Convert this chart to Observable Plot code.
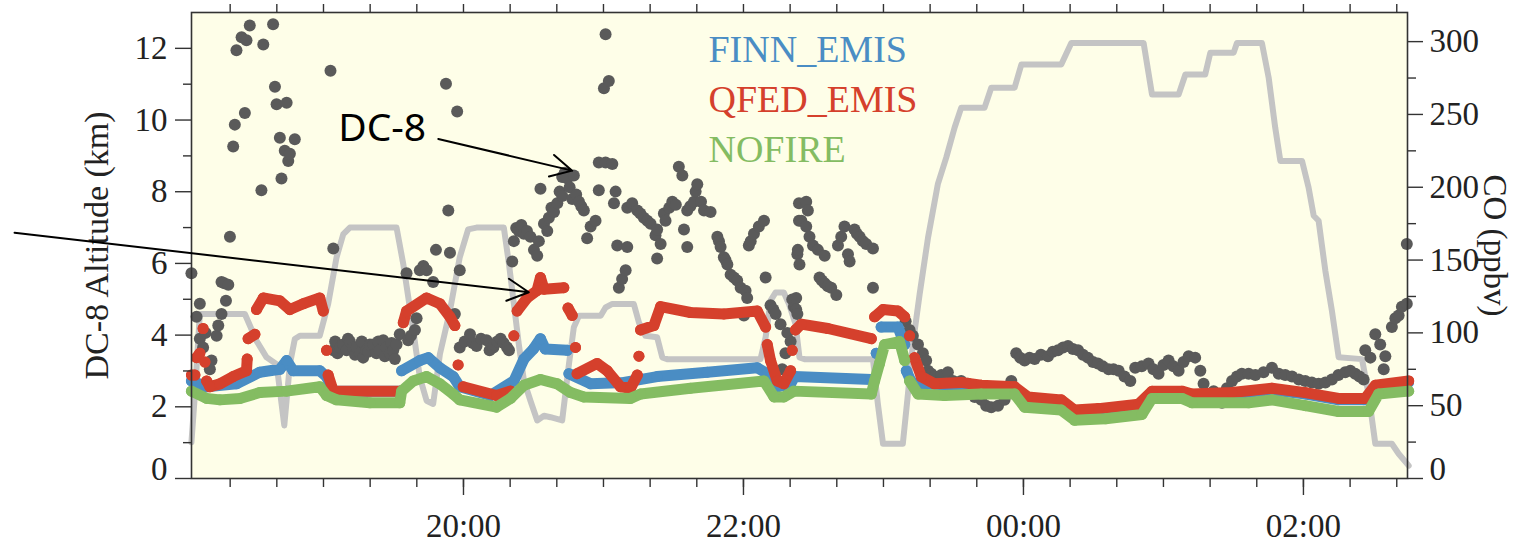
<!DOCTYPE html>
<html>
<head>
<meta charset="utf-8">
<script src="https://cdn.jsdelivr.net/npm/d3@7"></script>
<script src="https://cdn.jsdelivr.net/npm/@observablehq/plot@0.6"></script>
<style>
  html, body { margin: 0; padding: 0; background: #ffffff; }
  #chart svg { display: block; }
</style>
</head>
<body>
<div id="chart"></div>
<script>
// ---- time: minutes after 18:00 ----
const BASE = Date.UTC(2000, 0, 1, 18, 0);
const T = m => new Date(BASE + m * 60000);
const KM2PPB = 320 / 13; // left axis (km) mapped onto right axis (ppbv)

// DC-8 altitude [minute, km]
const altitude = [[3.4,1.01],[4.9,2.36],[7.0,4.59],[26.3,4.59],[31.3,3.84],[35.6,3.38],[39.9,3.19],[43.2,1.48],[45.6,3.19],[47.7,3.89],[49.9,3.98],[58.4,3.98],[62.0,4.87],[65.6,6.17],[68.5,6.82],[71.3,7.0],[91.3,7.0],[94.2,5.98],[98.5,4.12],[101.3,2.82],[104.2,2.17],[107.0,2.08],[109.9,3.47],[114.2,4.68],[118.4,6.17],[122.0,6.95],[125.6,7.0],[137.3,7.0],[139.5,5.98],[141.6,4.87],[143.7,3.75],[145.9,2.73],[148.7,2.17],[151.6,1.62],[154.5,1.75],[157.3,1.71],[162.3,1.62],[165.2,3.19],[167.3,4.22],[169.5,4.54],[178.8,4.54],[180.9,4.77],[183.8,4.87],[193.0,4.87],[195.2,4.35],[198.0,3.98],[203.0,3.94],[205.2,3.38],[207.3,3.33],[247.3,3.33],[249.5,3.94],[251.6,4.96],[253.8,5.19],[257.3,5.19],[259.5,4.87],[262.3,4.31],[264.0,3.38],[266.2,3.33],[295.5,3.33],[297.6,2.08],[299.8,0.97],[308.3,0.97],[310.5,2.36],[312.6,3.75],[315.5,5.14],[319.1,6.72],[323.3,8.21],[326.9,8.95],[330.5,9.79],[333.3,10.34],[343.3,10.34],[346.2,10.9],[356.2,10.9],[359.1,11.55],[376.2,11.55],[380.5,12.15],[411.5,12.15],[415.1,10.71],[426.5,10.71],[429.4,11.27],[437.9,11.27],[440.1,11.88],[450.1,11.88],[451.5,12.15],[462.2,12.15],[465.1,11.18],[467.9,9.79],[470.1,8.86],[479.4,8.86],[482.2,8.12],[484.4,7.33],[486.5,7.19],[489.4,5.79],[492.2,4.68],[495.1,3.38],[505.1,3.33],[507.9,2.36],[510.8,0.97],[517.9,0.97],[520.8,0.69],[525.1,0.36]];

// observed CO [minute, ppbv]
const coObs = [[3.4,141],[5.6,111],[7.0,120],[7.0,96],[8.4,90],[9.5,100],[11.3,75],[12.0,81],[14.2,98],[14.9,105],[16.3,113],[16.3,135],[17.5,134],[18.2,122],[19.2,133],[19.9,166],[21.3,228],[22.0,243],[22.7,294],[24.9,303],[26.3,251],[27.0,301],[28.4,311],[33.4,198],[34.2,298],[38.4,312],[39.2,269],[39.9,257],[41.3,234],[42.0,206],[43.4,225],[44.2,258],[44.9,218],[45.6,223],[47.7,233],[63.0,280],[64.2,158],
[64.2,88],[65.0,94],[66.0,86],[67.0,90],[68.5,92],[69.9,88],[70.5,96],[71.3,94],[72.7,90],[73.5,85],[74.2,90],[75.6,86],[76.4,94],[77.0,83],[78.4,88],[79.2,87],[79.9,92],[81.3,92],[82.7,86],[83.5,94],[84.1,88],[85.6,95],[86.3,84],[87.0,90],[88.5,86],[89.2,93],[89.9,88],[90.6,82],[91.3,92],[92.7,99],[95.6,141],[96.3,95],[97.5,98],[99.2,102],[99.9,110],[101.3,143],[102.8,146],[104.2,143],[107.0,135],[108.2,157],[112.5,271],[113.5,184],[114.2,155],[116.3,113],[117.3,252],[118.4,143],[118.4,90],[120.5,94],[122.8,99],[124.0,93],[125.6,91],[127.5,96],[129.9,95],[131.2,88],[132.8,90],[133.0,92],[134.5,94],[135.9,96],[137.2,93],[138.7,90],[139.5,88],
[140.9,149],[141.6,163],[142.6,172],[143.7,170],[144.8,174],[145.9,168],[147.2,170],[148.7,166],[150.2,157],[151.6,153],[152.3,163],[153.0,199],[154.5,175],[155.9,170],[156.6,179],[157.7,186],[158.8,183],[160.2,189],[161.2,197],[162.3,194],[162.3,207],[163.4,210],[164.5,206],[165.5,200],[166.6,192],[167.3,208],[168.3,195],[169.5,190],[170.5,187],[171.6,184],[173.0,165],[174.5,173],[176.6,177],[178.0,217],[178.0,198],[180.2,268],[180.9,305],[180.9,217],[182.3,273],[183.8,216],[184.5,189],[185.2,197],[185.9,160],[186.6,131],[188.0,137],[189.5,143],[190.2,159],[190.2,186],[192.3,189],[194.5,184],[195.8,182],[197.3,179],[198.8,177],[200.2,175],[202.3,167],[203.0,171],[203.0,151],[204.5,161],[205.9,182],[206.6,177],[208.2,186],[209.5,190],[211.0,188],[212.3,214],[213.8,208],[214.5,171],[215.9,184],[215.9,159],[217.2,187],[218.8,190],[219.5,197],[220.2,202],[221.8,190],[223.1,184],[225.9,183],[228.8,166],[229.5,163],[230.2,159],[231.6,152],[232.3,150],[233.1,147],[234.5,140],[235.9,138],[237.3,136],[238.8,131],[240.2,112],[240.9,129],[241.6,124],[242.3,160],[243.1,163],[244.5,168],[246.6,173],[248.8,177],[249.5,138],[251.6,119],[252.8,116],[253.8,113],[255.9,106],[256.6,75],[258.0,86],[258.8,100],[260.2,94],[260.9,123],[261.6,118],[262.6,124],[262.6,116],[263.1,154],[263.1,113],[263.3,157],[263.8,189],[263.8,177],[264.0,147],[264.8,177],[266.9,190],[266.9,173],[267.6,184],[268.3,166],[269.8,160],[271.9,157],[272.6,138],[273.6,136],[274.8,153],[274.8,134],[276.2,132],[277.6,131],[279.8,126],[280.5,160],[281.9,166],[283.3,173],[284.8,154],[285.5,149],[287.6,171],[288.6,168],[289.8,166],[291.2,163],[292.6,161],[295.5,158],[295.5,131],[309.5,108],[311.2,102],
[312.6,98],[314.8,92],[316.9,86],[318.3,81],[319.1,74],[320.5,72],[321.9,70],[324.8,71],[327.6,73],[329.8,67],[331.5,66],[333.3,67],[336.2,65],[339.1,56],[341.9,54],[344.0,50],[346.2,49],[349.1,50],[351.9,54],[354.8,67],[356.9,86],[358.6,83],[360.5,81],[362.6,83],[364.8,82],[367.5,85],[370.5,84],[372.6,87],[374.8,88],[377.0,90],[379.1,91],[381.2,89],[383.4,88],[385.5,85],[387.6,83],[389.8,80],[391.9,79],[394.0,77],[396.5,75],[398.6,75],[400.8,74],[403.3,70],[405.8,67],[407.9,76],[410.7,77],[413.6,79],[415.7,75],[417.9,72],[420.0,78],[422.2,81],[424.3,77],[426.5,74],[428.6,80],[430.8,84],[433.6,83],[435.8,74],[437.2,65],[441.5,60],[445.1,52],[447.2,62],[449.4,67],[451.5,70],[453.6,72],[456.5,72],[459.4,71],[462.9,73],[466.5,76],[469.4,72],[472.2,71],[475.1,70],[478.0,68],[480.8,67],[483.6,66],[486.5,65],[489.4,66],[492.2,68],[495.0,71],[497.9,73],[500.1,74],[502.2,72],[504.0,70],[505.8,68],[506.5,88],[508.7,83],[510.8,99],[512.9,92],[514.4,75],[515.1,84],[517.9,104],[519.4,110],[520.8,112],[522.2,118],[524.3,120],[524.3,161]];

// model CO [minute, ppbv]
const finnEmis = [[3.4,67],[9.9,63],[22.7,65],[32.7,73],[41.3,75],[44.2,81],[47.0,74],[58.4,74],[61.3,70],[64.2,60],[92.7,60],[93.5,74],[101.3,81],[104.9,83],[109.9,76],[115.6,70],[118.4,63],[131.6,57],[141.6,67],[145.9,82],[150.0,89],[153.0,96],[155.0,89],[164.5,88],[165.2,72],[174.5,65],[188.8,66],[203.0,70],[224.5,73],[245.9,76],[250.2,72],[254.5,63],[260.2,65],[261.9,70],[294.8,68],[296.9,86],[299.0,104],[306.2,104],[309.1,92],[309.8,74],[312.0,66],[316.0,65],[333.0,64],[342.0,63],[356.0,62],[362.0,55],[376.0,53],[382.0,46],[395.0,48],[409.0,50],[415.0,59],[428.0,59],[432.0,57],[449.0,58],[466.0,61],[481.0,58],[495.0,54],[506.0,54],[511.0,63],[525.0,66]];
const qfedEmis = [[3.4,71],[4.9,71],[5.6,83],[7.0,86],[8.4,103],[9.2,80],[9.9,67],[11.3,63],[15.6,65],[21.3,70],[27.0,74],[27.3,82],[27.7,96],[30.6,99],[31.3,116],[34.2,124],[41.3,122],[45.6,116],[51.3,120],[58.4,124],[59.9,115],[61.3,88],[62.0,71],[64.2,60],[92.7,60],[94.2,107],[95.6,115],[104.2,124],[109.9,120],[114.2,111],[116.3,105],[117.7,78],[119.9,63],[134.2,57],[140.2,60],[141.6,98],[143.0,115],[147.3,124],[151.5,129],[153.0,138],[154.5,130],[163.0,131],[164.8,117],[166.6,112],[168.0,90],[168.7,72],[177.3,79],[181.6,74],[187.3,63],[191.6,62],[194.5,71],[195.2,84],[195.9,102],[201.6,105],[204.5,118],[217.3,114],[231.6,113],[245.9,115],[249.5,104],[250.2,92],[251.6,81],[254.5,67],[257.3,65],[260.2,74],[260.9,88],[262.3,102],[264.8,106],[276.2,103],[294.8,96],[296.2,111],[299.8,116],[306.2,115],[309.1,111],[311.2,98],[313.3,83],[316.2,70],[321.9,65],[333.3,66],[341.9,64],[356.2,63],[361.9,56],[376.2,54],[381.9,47],[392.2,48],[409.3,51],[415.1,60],[427.9,60],[432.2,58],[449.4,59],[466.5,62],[480.8,59],[495.1,55],[506.5,55],[510.8,64],[525.1,67]];
const noFire = [[3.4,60],[9.9,55],[15.6,54],[24.2,55],[32.7,59],[44.2,60],[58.4,63],[61.3,57],[65.6,54],[79.9,52],[92.7,52],[93.5,60],[98.5,67],[104.2,70],[109.9,65],[115.6,58],[118.4,54],[134.2,49],[140.2,55],[145.9,64],[153.0,68],[160.2,65],[165.9,59],[171.6,56],[191.6,55],[195.9,58],[217.3,62],[248.8,67],[253.1,56],[257.3,56],[261.6,60],[294.8,58],[296.2,67],[298.3,79],[300.5,92],[306.9,94],[309.1,81],[311.2,67],[314.8,58],[326.2,57],[341.9,58],[356.2,58],[360.5,49],[376.2,47],[381.9,40],[395.2,41],[410.8,44],[415.1,55],[427.9,55],[432.2,52],[456.5,52],[466.5,54],[480.8,50],[495.1,46],[507.9,46],[512.2,58],[525.1,60]];

// legend & annotations (data units: minute, ppbv)
const legendNames = ["FINN_EMIS", "QFED_EMIS", "NOFIRE"];
const legendColors = ["#4a8dc4", "#d5402c", "#84bc62"];
const legendY = [285.7, 251.4, 217.1];
const legendX = 225.0;
const labelText = [{m: 66.3, v: 232, text: "DC-8"}];
const arrows = [
  {m1: 109.2, v1: 233.2, m2: 166.6, v2: 211.4},
  {m1: -72.4, v1: 168.8, m2: 148.0, v2: 127.9}
];

// ticks
const kmMajor = [0, 2, 4, 6, 8, 10, 12];
const kmMinor = [1, 3, 5, 7, 9, 11];
const ppbMajor = [0, 50, 100, 150, 200, 250, 300];
const ppbMinor = [25, 75, 125, 175, 225, 275];
const timeMajorMin = [120, 240, 360, 480];
const timeMinorMin = d3.range(20, 525, 20);

const legend = legendNames.map((n, i) => ({n, c: legendColors[i], v: legendY[i]}));
const fmt = d3.utcFormat("%H:%M");
const serif = "Liberation Serif, Times New Roman, serif";
const axisCol = "#333";

// a model series is drawn as its samples (dots) joined where it changes smoothly;
// very steep jumps are left as separated samples, as in the original
function broken(data) {
  const out = [];
  data.forEach((d, i) => {
    if (i > 0) {
      const p = data[i - 1];
      const dv = Math.abs(d[1] - p[1]);
      if (dv > 11 && dv / Math.max(d[0] - p[0], 0.01) > 6) out.push([d[0], NaN]);
    }
    out.push(d);
  });
  return out;
}
const modelMarks = (data, color) => [
  Plot.line(broken(data), {x: d => T(d[0]), y: d => d[1], stroke: color, strokeWidth: 11, strokeLinejoin: "round", strokeLinecap: "round"}),
  Plot.dot(data, {x: d => T(d[0]), y: d => d[1], r: 5.5, fill: color})
];

const chart = Plot.plot({
  width: 1524,
  height: 543,
  marginLeft: 191,
  marginRight: 117,
  marginTop: 12,
  marginBottom: 65,
  style: {background: "#ffffff", fontFamily: serif, color: "#222"},
  x: {type: "utc", domain: [T(3.43), T(524.6)]},
  y: {domain: [0, 320]},
  marks: [
    Plot.frame({fill: "#fefee8", stroke: null}),
    Plot.line(altitude, {x: d => T(d[0]), y: d => d[1] * KM2PPB, stroke: "#c4c4c4", strokeWidth: 6, strokeLinejoin: "round"}),
    Plot.dot(coObs, {x: d => T(d[0]), y: d => d[1], r: 6, fill: "#5a5a5a"}),
    ...modelMarks(finnEmis, legendColors[0]),
    ...modelMarks(qfedEmis, legendColors[1]),
    ...modelMarks(noFire, legendColors[2]),
    Plot.frame({stroke: axisCol, strokeWidth: 1.6}),
    // bottom axis
    Plot.axisX({anchor: "bottom", ticks: timeMinorMin.map(T), tickSize: 9, tickFormat: () => "", stroke: axisCol, strokeWidth: 1.4, label: null}),
    Plot.axisX({anchor: "bottom", ticks: timeMajorMin.map(T), tickSize: 17, tickPadding: 18, tickFormat: fmt, fontSize: 33, fontFamily: serif, stroke: axisCol, strokeWidth: 1.4, label: null}),
    // top ticks
    Plot.axisX({anchor: "top", ticks: timeMinorMin.map(T), tickSize: 9, tickFormat: () => "", stroke: axisCol, strokeWidth: 1.4, label: null}),
    // left axis (km)
    Plot.axisY({anchor: "left", ticks: kmMinor.map(k => k * KM2PPB), tickSize: 8, tickFormat: () => "", stroke: axisCol, strokeWidth: 1.4, label: null}),
    Plot.axisY({anchor: "left", ticks: kmMajor.map(k => k * KM2PPB), tickSize: 16, tickPadding: 8, tickFormat: d => { const k = Math.round(d / KM2PPB); return k === 0 ? "" : String(k); }, fontSize: 33, fontFamily: serif, stroke: axisCol, strokeWidth: 1.4, label: null}),
    Plot.axisY({anchor: "left", ticks: [0], tickSize: 16, tickPadding: 8, tickFormat: () => "0", fontSize: 33, fontFamily: serif, dy: -9, stroke: "none", label: null}),
    // right axis (ppbv)
    Plot.axisY({anchor: "right", ticks: ppbMinor, tickSize: 8, tickFormat: () => "", stroke: axisCol, strokeWidth: 1.4, label: null}),
    Plot.axisY({anchor: "right", ticks: ppbMajor, tickSize: 15, tickPadding: 7, tickFormat: d => d === 0 ? "" : String(d), fontSize: 33, fontFamily: serif, stroke: axisCol, strokeWidth: 1.4, label: null}),
    Plot.axisY({anchor: "right", ticks: [0], tickSize: 15, tickPadding: 7, tickFormat: () => "0", fontSize: 33, fontFamily: serif, dy: -9, stroke: "none", label: null}),
    // axis titles
    Plot.text(["DC-8 Altitude (km)"], {frameAnchor: "left", textAnchor: "middle", lineAnchor: "middle", dx: -94, rotate: -90, fontSize: 34, fontFamily: serif, fill: "#222"}),
    Plot.text(["CO (ppbv)"], {frameAnchor: "right", textAnchor: "middle", lineAnchor: "middle", dx: 87, rotate: 90, fontSize: 33, fontFamily: serif, fill: "#222"}),
    // legend
    Plot.text(legend, {x: () => T(legendX), y: "v", text: "n", fill: "c", textAnchor: "start", lineAnchor: "bottom", fontSize: 38, fontFamily: serif}),
    // annotations
    Plot.text(labelText, {x: d => T(d.m), y: "v", text: "text", textAnchor: "start", lineAnchor: "bottom", fontSize: 39, fontFamily: "Noto Sans, Open Sans, sans-serif", fill: "#000"}),
    Plot.arrow(arrows, {x1: d => T(d.m1), y1: "v1", x2: d => T(d.m2), y2: "v2", stroke: "#000", strokeWidth: 2, headLength: 18, headAngle: 55})
  ]
});

document.getElementById("chart").appendChild(chart);
</script>
</body>
</html>
